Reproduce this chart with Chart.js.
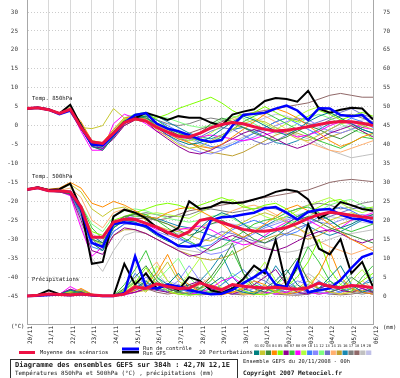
<!DOCTYPE html>
<html>
<head>
<meta charset="utf-8">
<script src="https://cdn.jsdelivr.net/npm/chart.js@4.4.0/dist/chart.umd.min.js"></script>
<style>
  html, body { margin: 0; padding: 0; background: #fff; }
</style>
</head>
<body>
<canvas id="chart" width="400" height="378"></canvas>
<script>
// GEFS ensemble diagram - 42,7N 12,1E - run 20/11/2008 00h

// Forecast hours (one value every 12h up to 384h)
const hours = [0, 12, 24, 36, 48, 60, 72, 84, 96, 108, 120, 132, 144, 156, 168, 180, 192,
    204, 216, 228, 240, 252, 264, 276, 288, 300, 312, 324, 336, 348, 360, 372, 384];

// Day boundaries and their labels
const dayHours = [0, 24, 48, 72, 96, 120, 144, 168, 192, 216, 240, 264, 288, 312, 336, 360, 384];
const dayLabels = ['20/11', '21/11', '22/11', '23/11', '24/11', '25/11', '26/11', '27/11', '28/11',
    '29/11', '30/11', '01/12', '02/12', '03/12', '04/12', '05/12', '06/12'];

// Tick labels (left: °C, right: mm)
const leftTicks = [-45, -40, -35, -30, -25, -20, -15, -10, -5, 0, 5, 10, 15, 20, 25, 30];
const rightTicks = [0, 5, 10, 15, 20, 25, 30, 35, 40, 45, 50, 55, 60, 65, 70, 75];

// Temperature 850hPa (°C)
const t850Mean = [4.5, 4.7, 4.2, 3.2, 4.3, -0.5, -4.3, -4.7, -2.0, 0.8, 1.8, 1.2, -0.5, -1.7, -2.8, -3.0, -2.0,
    -0.6, 0.3, 0.8, 0.5, -0.3, -1.0, -1.4, -1.2, -0.8, -0.3, 0.3, 0.8, 1.1, 1.0, 0.6, 0.0];
const t850Control = [4.5, 4.7, 4.2, 3.0, 4.0, -0.5, -5.0, -5.2, -2.5, 0.8, 2.8, 3.3, 0.5, -0.8, -1.5, -2.5, -3.7,
    -4.3, -3.8, 0.0, 2.8, 3.1, 3.4, 4.5, 5.3, 4.0, 1.5, 4.6, 4.5, 2.8, 2.5, 2.8, 0.3];
const t850Gfs = [4.5, 4.8, 4.3, 3.2, 5.5, 0.0, -5.0, -5.0, -2.0, 1.0, 2.0, 3.4, 2.5, 1.5, 2.5, 2.1, 2.1,
    0.8, 0.0, 2.9, 3.7, 4.3, 6.5, 7.3, 7.0, 6.3, 9.2, 4.5, 3.4, 4.2, 4.7, 4.5, 1.6];
const t850Perts = [
    [4.3, 4.6, 4.0, 3.0, 4.1, 0.5, -5.5, -6.5, -3.0, 0.5, 2.0, 2.5, -0.5, -2.5, -4.0, -5.0, -4.5, -3.0, -1.0, 1.0, 2.5, 1.5, 0.0, -1.5, -2.5, -1.0, 1.0, 2.5, 3.5, 2.0, 0.5, -1.0, -2.0],
    [4.5, 4.8, 4.3, 3.4, 4.8, -0.5, -0.8, 0.0, 4.5, 2.0, 1.5, 1.0, -1.0, -3.0, -5.0, -6.0, -5.5, -4.0, -2.5, -1.0, 0.5, 1.5, 1.0, -0.5, -2.0, -3.5, -4.0, -2.5, -1.0, 0.5, 1.0, 0.0, -1.0],
    [4.4, 4.5, 4.1, 3.3, 4.2, -1.0, -5.0, -5.5, -2.0, 1.0, 2.5, 2.0, 0.5, -1.0, -2.5, -3.5, -2.0, 0.5, 2.0, 1.0, -0.5, -2.0, -3.0, -4.0, -3.0, -1.5, 0.0, -1.0, -2.5, -3.5, -2.0, -0.5, 0.5],
    [4.6, 4.7, 4.3, 3.1, 4.4, 1.0, -4.0, -4.5, -1.0, 2.0, 2.5, 1.5, 0.0, -2.0, -3.5, -4.5, -5.5, -6.0, -5.0, -3.0, -1.0, 1.0, 3.0, 4.5, 3.5, 2.0, 0.0, -2.0, -4.0, -5.5, -4.5, -3.0, -2.0],
    [4.5, 4.6, 4.2, 3.2, 4.3, 0.0, -4.5, -5.0, -1.5, 1.5, 2.5, 2.5, 2.0, 3.0, 4.5, 5.5, 6.5, 7.5, 6.0, 4.0, 2.5, 3.5, 5.0, 3.5, 2.0, 1.0, 2.5, 4.0, 3.0, 1.5, 2.5, 3.5, 2.5],
    [4.4, 4.6, 4.1, 3.2, 4.1, -0.5, -5.5, -6.0, -3.5, 0.0, 1.5, 1.0, -1.5, -3.5, -5.5, -7.0, -7.5, -6.5, -5.0, -3.5, -2.0, -1.0, -2.0, -3.5, -5.0, -6.0, -5.0, -3.5, -2.0, -1.0, 0.0, -1.5, -3.0],
    [4.5, 4.7, 4.2, 3.2, 4.4, 0.5, -4.5, -5.5, -2.5, 1.0, 3.0, 3.5, 1.5, -0.5, -2.0, -3.0, -4.0, -4.5, -3.0, -1.0, 1.0, 2.5, 3.5, 2.0, 0.5, -1.0, -2.5, -4.0, -5.0, -6.0, -4.5, -3.0, -3.5],
    [4.5, 4.6, 4.2, 3.3, 4.3, -1.5, -6.5, -6.5, 0.5, 3.0, 2.0, 0.5, -1.5, -2.5, -3.0, -3.5, -3.0, -2.5, -3.0, -3.5, -4.0, -3.5, -2.5, -1.5, -2.0, -3.0, -2.5, -1.5, 0.0, 1.0, 0.5, -0.5, -1.0],
    [4.4, 4.7, 4.3, 3.2, 4.2, 0.0, -5.0, -5.5, -2.0, 1.5, 2.5, 2.0, 0.0, -1.5, -3.0, -4.0, -3.5, -2.0, 0.0, 2.0, 3.0, 2.0, 0.5, -1.0, 0.5, 2.5, 4.0, 5.0, 3.5, 2.0, 0.0, -1.5, -3.5],
    [4.5, 4.6, 4.2, 3.1, 4.3, -0.5, -5.5, -6.0, -2.5, 0.5, 2.0, 2.5, 1.5, 0.0, -1.5, -3.0, -4.5, -5.5, -6.0, -5.0, -3.5, -2.0, -0.5, 1.0, 2.0, 0.5, -1.0, -2.5, -1.0, 0.5, 2.0, 1.0, -0.5],
    [4.5, 4.7, 4.1, 3.2, 4.2, 0.0, -4.8, -5.8, -2.0, 1.0, 2.2, 1.5, -0.5, -2.5, -4.5, -6.0, -7.0, -7.5, -6.5, -5.0, -4.0, -3.0, -1.5, 0.0, 1.0, 2.0, 1.5, 0.0, -1.5, -2.0, -1.0, 0.0, 1.0],
    [4.4, 4.6, 4.2, 3.3, 4.3, 0.5, -4.0, -4.5, -1.0, 2.0, 3.0, 3.0, 2.5, 2.0, 1.0, 0.0, -0.5, 0.0, 1.5, 2.5, 2.0, 0.5, -1.0, -2.0, -1.0, 0.5, 2.0, 3.0, 2.0, 0.5, -1.0, -2.0, -2.5],
    [4.5, 4.7, 4.2, 3.2, 4.3, 0.0, -5.0, -5.5, -2.5, 0.5, 2.0, 2.0, 0.0, -2.0, -3.5, -4.0, -3.0, -1.5, -0.5, -1.0, -2.5, -4.0, -5.0, -4.0, -2.5, -1.0, 0.0, 1.0, 2.0, 3.5, 4.5, 3.0, 2.0],
    [4.6, 4.8, 4.3, 3.3, 4.4, 0.5, -4.5, -5.0, -2.0, 1.5, 2.5, 2.0, 0.5, -1.0, -2.5, -3.0, -2.0, -0.5, 0.5, 1.5, 2.5, 3.5, 2.5, 1.0, -1.0, -3.0, -4.5, -5.5, -6.5, -7.0, -6.0, -5.0, -4.0],
    [4.5, 4.6, 4.2, 3.1, 4.2, -0.5, -5.5, -6.5, -3.0, 0.0, 1.5, 1.5, 0.0, -1.5, -3.0, -4.5, -6.0, -7.0, -7.5, -8.0, -7.0, -5.5, -4.0, -2.5, -1.5, -2.0, -3.0, -4.0, -3.0, -2.0, -1.0, 0.5, 1.0],
    [4.4, 4.6, 4.1, 3.2, 4.3, 0.0, -5.0, -6.0, -2.5, 1.0, 2.5, 3.0, 2.5, 1.0, -0.5, -2.0, -3.0, -3.5, -2.5, -1.0, -0.5, -1.5, -3.0, -4.5, -5.0, -4.0, -2.5, -1.0, 0.5, 1.5, 0.5, -1.0, -2.0],
    [4.5, 4.7, 4.2, 3.3, 4.3, 0.5, -4.5, -5.0, -1.5, 1.5, 2.5, 2.5, 1.5, 0.5, 0.0, 0.5, 1.5, 2.0, 1.5, 0.5, -0.5, -1.5, -0.5, 1.0, 2.0, 1.5, 0.5, 0.0, 1.5, 2.5, 3.0, 2.0, 1.0],
    [4.5, 4.6, 4.2, 3.2, 4.3, 0.0, -5.0, -5.5, -2.0, 1.0, 2.0, 1.5, 0.0, -1.5, -2.5, -2.0, -1.0, 0.0, 1.0, 2.0, 3.0, 3.5, 4.0, 4.5, 5.0, 5.5, 6.0, 7.0, 8.0, 8.5, 8.0, 7.5, 7.5],
    [4.4, 4.6, 4.1, 3.2, 4.2, 0.0, -5.5, -6.5, -3.0, 0.5, 2.0, 2.0, 0.5, -1.0, -2.0, -3.5, -5.0, -6.0, -5.5, -4.5, -3.0, -2.0, -1.0, -0.5, -1.5, -2.5, -3.5, -5.0, -6.5, -7.5, -8.5, -8.0, -7.5],
    [4.5, 4.7, 4.2, 3.2, 4.3, 0.5, -4.5, -5.5, -2.0, 1.0, 2.5, 2.0, 0.5, -0.5, -1.5, -2.5, -3.5, -4.0, -3.0, -1.5, 0.0, 1.0, 2.0, 3.0, 2.5, 1.5, 0.5, -0.5, -1.5, -0.5, 0.5, 1.5, 2.0]
];

// Temperature 500hPa (°C)
const t500Mean = [-16.9, -16.4, -17.2, -17.3, -17.5, -21.5, -29.5, -29.5, -25.5, -24.7, -24.8, -25.8, -26.8, -28.2, -29.3, -28.0, -25.0,
    -24.5, -25.6, -26.5, -27.4, -27.8, -27.9, -27.5, -26.9, -25.8, -24.5, -23.5, -22.9, -23.2, -23.7, -24.1, -24.5];
const t500Control = [-16.9, -16.4, -17.2, -17.3, -17.5, -22, -31, -32, -26, -25.5, -26, -26.5, -28.5, -30, -31.8, -32, -31.5,
    -25, -24.2, -24, -23.5, -23, -21.8, -21.5, -23, -24.8, -22.8, -22.2, -22, -23.5, -24.5, -24.8, -25.6];
const t500Gfs = [-16.9, -16.3, -17.0, -16.8, -15.3, -22, -36.5, -36, -24, -22.2, -23, -24.5, -26.9, -28.5, -27, -20, -22,
    -21.5, -20.2, -20.5, -20.3, -19.5, -18.7, -17.5, -16.9, -17.4, -19.5, -24.5, -23, -20.2, -21, -22, -22.5];
const t500Perts = [
    [-17.0, -16.5, -17.2, -17.4, -17.8, -23, -31, -33, -27, -25, -25.5, -27, -29, -30.5, -31.5, -30, -27, -24.5, -23, -24, -26, -28, -29.5, -28, -26, -24, -22.5, -23.5, -25, -27, -26, -24.5, -23.5],
    [-16.8, -16.2, -17.0, -17.0, -15.5, -17.5, -22, -24, -22, -21.5, -23, -25, -26.5, -27.5, -28, -29, -30, -30.5, -29, -27, -25.5, -24, -23, -24, -25.5, -27, -28.5, -27, -25, -24, -23, -24, -26],
    [-17.0, -16.4, -17.3, -17.5, -18, -22, -30, -31, -26, -24, -23.5, -24, -25, -26, -27.5, -29, -28, -26, -25, -26.5, -28, -30, -31, -29.5, -27, -25, -24, -25.5, -27, -28, -29, -30, -31],
    [-16.9, -16.3, -16.8, -16.5, -15, -16.5, -20.5, -21.5, -20, -21, -22.5, -24, -24.5, -23, -22, -21.5, -22.5, -24, -26, -28, -29.5, -28, -26, -24, -22, -21, -22.5, -24, -26, -28, -30, -31.5, -33],
    [-17.0, -16.5, -17.2, -17.3, -17.6, -22, -28, -29, -25, -24, -23, -22, -21, -20.5, -21, -22, -21, -20, -19, -20, -21.5, -22, -21, -20.5, -22, -24, -23, -21.5, -20, -19.5, -21, -22, -21.5],
    [-17.1, -16.6, -17.3, -17.5, -18.2, -25, -33, -34, -29, -27, -27.5, -28.5, -30, -31.5, -33, -34.5, -34, -32, -30, -29, -30, -31.5, -32.5, -33, -32, -30.5, -29, -28, -27.5, -28.5, -30, -31, -30],
    [-16.9, -16.4, -17.1, -17.2, -17.5, -21, -27, -30, -27, -24.5, -23, -23.5, -25, -27, -29, -30.5, -32, -33, -32, -30, -28, -26, -25, -24.5, -23, -22, -21.5, -23, -25, -27, -28, -27, -26],
    [-17.0, -16.3, -17.0, -17.4, -18.5, -27, -34.5, -32, -26, -24, -24.5, -26, -27.5, -28, -27.5, -27, -26.5, -27.5, -29, -30.5, -31.5, -31, -29, -27, -25.5, -24.5, -25, -26.5, -28, -27, -25, -24, -23],
    [-17.0, -16.5, -17.2, -17.3, -17.5, -23, -30, -31.5, -27, -25, -24, -23.5, -23, -23.5, -24, -24.5, -23, -21.5, -20, -19.5, -21, -22.5, -24, -25, -24, -22.5, -21, -20, -19, -20.5, -22, -23, -22],
    [-16.9, -16.4, -17.1, -17.3, -17.8, -24, -32, -33, -28, -26, -25, -25.5, -26.5, -28, -29.5, -31, -32, -31.5, -29.5, -27.5, -26, -25, -26, -27.5, -29, -28, -26, -24, -22.5, -21.5, -22.5, -24, -25],
    [-17.0, -16.5, -17.2, -17.4, -17.7, -23.5, -31, -32, -26.5, -25, -25.5, -26.5, -28, -29, -30, -31, -33, -34, -33.5, -32, -30, -28.5, -27, -26, -25, -24, -24.5, -25.5, -26, -25, -24, -23.5, -24],
    [-16.8, -16.3, -17.0, -17.2, -17.3, -21, -26, -28, -24, -22.5, -22, -22.5, -23.5, -24.5, -25, -25.5, -25, -24, -23.5, -24.5, -26, -27, -28, -27.5, -26, -25, -24, -22.5, -21, -20, -19.5, -21, -22.5],
    [-17.0, -16.5, -17.2, -17.4, -17.8, -23, -30, -32.5, -28, -26, -26, -27, -28.5, -30, -31.5, -32, -31, -29.5, -28, -28.5, -29.5, -30.5, -31, -30, -28.5, -27, -26, -25, -24, -23, -22, -21.5, -22],
    [-16.9, -16.2, -16.9, -17.1, -16.5, -19, -25, -27, -23, -22, -23, -24, -25, -26, -27, -27.5, -27, -25.5, -24, -22.5, -21.5, -21, -22, -23.5, -25, -27, -29, -30.5, -32, -33, -34, -33, -32],
    [-17.0, -16.5, -17.2, -17.4, -18, -24, -31, -33, -29, -27.5, -27.5, -28.5, -30, -31.5, -33, -34, -35, -35.5, -35, -34, -32.5, -31, -30, -29, -28.5, -29, -30, -29, -27.5, -26, -25, -24, -23.5],
    [-16.9, -16.4, -17.1, -17.3, -17.6, -22.5, -29, -31, -26.5, -24.5, -24, -24, -24.5, -25.5, -26.5, -27, -28, -29, -30, -30.5, -29.5, -28, -26.5, -25, -24, -25, -26.5, -28, -29, -28, -26.5, -25, -24],
    [-17.0, -16.5, -17.2, -17.3, -17.5, -22, -29, -31, -26, -24, -23.5, -23, -23.5, -24, -24, -23.5, -22.5, -22, -22.5, -23, -22.5, -22, -21.5, -22, -23, -22, -21, -20.5, -21, -22, -21.5, -20.5, -20],
    [-16.9, -16.4, -17.1, -17.3, -17.6, -23, -30, -31.5, -27, -25, -24.5, -24.5, -25, -24.5, -23.5, -22.5, -22, -21.5, -21, -20.5, -20, -19.5, -19, -18.5, -18, -17.5, -17, -16, -15, -14.5, -14.2, -14.5, -14.8],
    [-17.0, -16.5, -17.3, -17.5, -18.3, -26, -35, -38.5, -33, -29, -28, -28.5, -30, -31.5, -32.5, -33, -33.5, -33, -32, -31, -30.5, -31, -32, -33, -33.5, -33, -32, -31, -30, -29, -28.5, -28, -27.5],
    [-16.9, -16.4, -17.1, -17.2, -17.6, -22, -28.5, -30.5, -26, -24.5, -25, -26, -27, -28, -28.5, -28, -27, -26, -25.5, -26, -26.5, -27, -26.5, -25.5, -24.5, -23.5, -23, -23.5, -24, -24.5, -25, -25.5, -26]
];

// Precipitation (mm, right axis)
const precipMean = [0, 0.2, 0.5, 0.4, 0.3, 0.5, 0.3, 0.1, 0.1, 0.5, 2.4, 2.0, 3.2, 2.5, 2.0, 2.1, 3.5,
    2.5, 1.6, 3.0, 2.6, 2.3, 2.1, 2.3, 2.0, 1.8, 2.2, 3.4, 2.5, 2.2, 2.8, 2.6, 2.2];
const precipControl = [0, 0.1, 0.3, 0.4, 0.2, 0.5, 0.2, 0, 0, 0.8, 10.5, 2.5, 2.0, 3.0, 2.5, 1.5, 1.0,
    0.5, 0.6, 1.6, 3.4, 5.0, 6.9, 3.0, 2.4, 8.7, 1.0, 1.5, 2.0, 4.2, 7.4, 10.3, 11.3];
const precipGfs = [0, 0.3, 1.5, 0.5, 0.3, 0.5, 0.2, 0, 0, 8.5, 3.0, 6.0, 2.0, 3.0, 1.5, 5.0, 4.0,
    1.5, 0.8, 2.0, 4.5, 8.0, 6.0, 14.8, 2.4, 8.0, 19.0, 12.5, 11.0, 15.0, 6.0, 9.0, 2.4];
const precipPerts = [
    [0, 0.2, 0.6, 0.5, 1.5, 0.8, 0.3, 0, 0, 0.5, 2, 4, 1.5, 3, 6, 2, 1, 3, 5, 2, 1, 0.5, 2, 4, 7, 3, 1, 2, 5, 8, 3, 1, 2],
    [0, 0.3, 0.4, 0.6, 1.0, 1.5, 0.2, 0, 0, 1, 3, 1, 5, 9, 4, 2, 1, 0.5, 1, 2, 0.5, 1, 3, 1, 0.5, 2, 4, 2, 1, 0.5, 1, 3, 2],
    [0, 0.1, 0.5, 0.3, 0.8, 1.2, 0.4, 0, 0, 2, 5, 8, 4, 2, 1, 3, 2, 5, 9, 14, 6, 2, 1, 3, 6, 10, 4, 2, 1, 2, 5, 3, 1],
    [0, 0.2, 0.4, 0.5, 0.6, 2.0, 0.5, 0, 0, 0.5, 1.5, 3, 6, 11, 5, 3, 1, 0.5, 0.3, 1, 2, 4, 3, 1, 0.5, 1, 2, 6, 12, 5, 2, 1, 0.5],
    [0, 0.2, 0.5, 0.4, 1.2, 0.6, 0.2, 0, 0, 1.5, 3.5, 7.5, 3, 1.5, 0.5, 0.2, 0.5, 1, 2, 3, 1.5, 0.5, 0.3, 1, 2.5, 5, 9, 15, 7, 3, 1.5, 4, 6],
    [0, 0.3, 0.7, 0.5, 1.8, 1.0, 0.3, 0, 0, 0.5, 1, 2, 1.5, 1, 2, 3, 4, 2, 1, 0.5, 1.5, 3, 5, 7, 3, 1, 0.5, 2, 3, 1.5, 1, 2, 1],
    [0, 0.2, 0.4, 0.5, 0.9, 1.4, 0.5, 0, 0, 3, 7, 12, 5, 2, 1, 0.5, 2, 4, 8, 12, 6, 3, 2, 1, 3, 7, 13, 9, 4, 2, 1, 5, 8],
    [0, 0.1, 0.3, 0.4, 2.5, 1.0, 0.2, 0, 0, 0.3, 1, 2, 3, 2, 1, 0.5, 1, 2, 4, 5, 3, 2, 1, 0.5, 1, 2, 1, 0.5, 1, 2, 3, 2, 1],
    [0, 0.3, 0.6, 0.5, 1.0, 0.5, 0.2, 0, 0, 2, 4, 3, 8, 4, 2, 6, 10, 5, 2, 1, 2, 5, 9, 4, 2, 1, 3, 6, 3, 2, 4, 7, 3],
    [0, 0.2, 0.5, 0.4, 0.8, 1.6, 0.4, 0, 0, 1, 6, 3, 2, 1, 2, 1, 0.5, 1, 3, 5, 7, 4, 2, 1, 0.5, 1, 2, 4, 2, 1, 2, 3, 5],
    [0, 0.2, 0.4, 0.6, 1.3, 0.7, 0.2, 0, 0, 0.5, 2, 5, 3, 2, 4, 8, 4, 2, 1, 0.5, 1, 2, 1, 0.5, 2, 4, 3, 1, 0.5, 1, 2, 1, 1.5],
    [0, 0.1, 0.5, 0.4, 0.7, 1.1, 0.3, 0, 0, 1, 2.5, 1.5, 4, 7, 10, 5, 2, 1, 3, 6, 4, 2, 1, 3, 5, 2, 1, 0.5, 1, 3, 6, 9, 4],
    [0, 0.2, 0.6, 0.5, 1.6, 0.9, 0.3, 0, 0, 0.5, 1.5, 2.5, 2, 1.5, 3, 2, 1, 0.5, 1.5, 2, 3, 5, 4, 2, 1, 0.5, 1, 2, 3, 4, 2, 1, 0.5],
    [0, 0.3, 0.4, 0.5, 1.1, 1.8, 0.4, 0, 0, 1, 3, 6, 9, 4, 2, 1, 3, 5, 2, 1, 0.5, 0.3, 1, 2, 4, 8, 5, 2, 1, 0.5, 2, 4, 2],
    [0, 0.2, 0.5, 0.3, 0.9, 1.3, 0.3, 0, 0, 0.5, 1, 1.5, 2, 1, 0.5, 1, 2, 3, 2, 1, 0.5, 1, 2, 1.5, 1, 2, 3, 2, 1, 0.5, 1, 1.5, 1],
    [0, 0.2, 0.5, 0.4, 1.4, 0.8, 0.3, 0, 0, 1.5, 4, 2, 5, 3, 1, 2, 4, 7, 11, 5, 2, 1, 3, 8, 4, 2, 1, 2, 4, 2, 1, 3, 4],
    [0, 0.1, 0.4, 0.5, 1.0, 1.2, 0.2, 0, 0, 0.5, 2, 3.5, 2, 1, 2, 3, 1.5, 1, 0.5, 1, 2, 1, 0.5, 1.5, 3, 2, 1, 0.5, 1, 2, 1, 0.5, 1],
    [0, 0.2, 0.6, 0.5, 1.7, 0.6, 0.3, 0, 0, 0.3, 1, 2, 1, 0.5, 1, 0.5, 0.3, 0.5, 1, 0.5, 0.3, 0.5, 1, 0.5, 0.3, 0.2, 0.5, 1, 0.5, 0.3, 0.5, 1, 0.5],
    [0, 0.3, 0.5, 0.4, 0.8, 1.5, 0.4, 0, 0, 1, 2, 4, 6, 3, 1, 2, 5, 3, 1, 2, 4, 7, 5, 2, 1, 3, 6, 4, 2, 1, 3, 2, 1],
    [0, 0.2, 0.4, 0.5, 1.2, 1.0, 0.3, 0, 0, 0.5, 1.5, 3, 2, 4, 3, 1, 2, 1, 0.5, 1, 2, 3, 2, 1, 2, 1, 0.5, 1, 2, 4, 3, 2, 1]
];

// Perturbation colours and legend numbers
const pertColors = ['#008080', '#c8c830', '#3c8c3c', '#ff8c00', '#80ff00', '#900090', '#3cc83c', '#ff00ff', '#b0ff40', '#4080ff',
    '#8888ff', '#80ff80', '#7070c8', '#ffb070', '#c0a030', '#1888b0', '#808080', '#906868', '#c0c0c0', '#c0c0e8'];
const pertLabels = ['01', '02', '03', '04', '05', '06', '07', '08', '09', '10',
    '11', '12', '13', '14', '15', '16', '17', '18', '19', '20'];

const meanColor = '#ee1144';
const controlColor = '#0000ff';
const gfsColor = '#000000';
const textColor = '#202020';
const mono = '"DejaVu Sans Mono", monospace';

// Build one line dataset
function series(values, axis, color, width, order) {
    return {
        data: hours.map((h, i) => ({ x: h, y: values[i] })),
        yAxisID: axis,
        borderColor: color,
        backgroundColor: color,
        borderWidth: width,
        pointRadius: 0,
        tension: 0,
        fill: false,
        order: order
    };
}

const datasets = [];
// Thick lines on top
datasets.push(series(t850Mean, 'y', meanColor, 3, 0));
datasets.push(series(t500Mean, 'y', meanColor, 3, 0));
datasets.push(series(precipMean, 'y2', meanColor, 3, 0));
datasets.push(series(t850Control, 'y', controlColor, 2.5, 1));
datasets.push(series(t500Control, 'y', controlColor, 2.5, 1));
datasets.push(series(precipControl, 'y2', controlColor, 2.5, 1));
datasets.push(series(t850Gfs, 'y', gfsColor, 2, 2));
datasets.push(series(t500Gfs, 'y', gfsColor, 2, 2));
datasets.push(series(precipGfs, 'y2', gfsColor, 2, 2));
// Perturbations underneath
pertColors.forEach((c, i) => {
    datasets.push(series(t850Perts[i], 'y', c, 1, 3));
    datasets.push(series(t500Perts[i], 'y', c, 1, 3));
    datasets.push(series(precipPerts[i], 'y2', c, 1, 3));
});

// Titles, legend and captions drawn on the canvas
const decorPlugin = {
    id: 'decor',
    beforeDraw(chart) {
        const ctx = chart.ctx;
        ctx.save();
        ctx.fillStyle = '#ffffff';
        ctx.fillRect(0, 0, chart.width, chart.height);
        ctx.restore();
    },
    afterDraw(chart) {
        const ctx = chart.ctx;
        ctx.save();
        ctx.fillStyle = textColor;
        ctx.textBaseline = 'middle';
        ctx.textAlign = 'left';

        // Panel names inside the plot
        ctx.font = '5.6px ' + mono;
        ctx.fillText('Temp. 850hPa', 32, 99);
        ctx.fillText('Temp. 500hPa', 32, 176.5);
        ctx.fillText('Précipitations', 32, 280);

        // Units
        ctx.fillText('(°C)', 11, 327);
        ctx.fillText('(mm)', 383, 328);

        // Legend lines
        ctx.fillStyle = meanColor;
        ctx.fillRect(19, 351, 16, 3);
        ctx.fillStyle = controlColor;
        ctx.fillRect(122, 347.5, 17, 3);
        ctx.fillStyle = gfsColor;
        ctx.fillRect(122, 351, 17, 2.5);

        ctx.fillStyle = textColor;
        ctx.font = '5.4px ' + mono;
        ctx.fillText('Moyenne des scénarios', 40, 352.5);
        ctx.fillText('Run de contrôle', 143, 348.5);
        ctx.fillText('Run GFS', 143, 353.5);
        ctx.font = '5.6px ' + mono;
        ctx.fillText('20 Perturbations', 199, 352.5);

        // Perturbation colour boxes
        ctx.font = '3.8px ' + mono;
        ctx.textAlign = 'center';
        pertColors.forEach((c, i) => {
            const bx = 254 + i * 5.9;
            ctx.fillStyle = textColor;
            ctx.fillText(pertLabels[i], bx + 2.7, 346.5);
            ctx.fillStyle = c;
            ctx.fillRect(bx, 350.5, 5.2, 4.5);
        });

        // Caption box
        ctx.textAlign = 'left';
        ctx.strokeStyle = '#303030';
        ctx.lineWidth = 1;
        ctx.strokeRect(10.5, 359.5, 227, 25);
        ctx.fillStyle = textColor;
        ctx.font = 'bold 7px ' + mono;
        ctx.fillText('Diagramme des ensembles GEFS sur 384h : 42,7N 12,1E', 15, 365);
        ctx.font = '5.9px ' + mono;
        ctx.fillText('Températures 850hPa et 500hPa (°C) , précipitations (mm)', 15, 373);
        ctx.font = '5.4px ' + mono;
        ctx.fillText('Ensemble GEFS du 20/11/2008 - 00h', 243, 362);
        ctx.font = 'bold 6.1px ' + mono;
        ctx.fillText('Copyright 2007 Meteociel.fr', 243, 373);
        ctx.restore();
    }
};

const tickFont = { family: mono, size: 6 };

new Chart(document.getElementById('chart'), {
    type: 'line',
    data: { datasets: datasets },
    options: {
        responsive: false,
        animation: false,
        layout: { padding: 0 },
        plugins: {
            legend: { display: false },
            tooltip: { enabled: false }
        },
        scales: {
            x: {
                type: 'linear',
                min: 0,
                max: 384,
                afterBuildTicks: function(scale) {
                    scale.ticks = dayHours.map(v => ({ value: v }));
                },
                afterFit: function(scale) {
                    scale.height = 54;
                    scale.paddingLeft = 0;
                    scale.paddingRight = 0;
                },
                ticks: {
                    autoSkip: false,
                    minRotation: 90,
                    maxRotation: 90,
                    padding: 2,
                    labelOffset: 3,
                    font: tickFont,
                    color: textColor,
                    callback: function(value, index) {
                        return dayLabels[index];
                    }
                },
                grid: { color: '#d8d8d8', drawTicks: false },
                border: { color: '#a8a8a8' }
            },
            y: {
                position: 'left',
                min: -52.39,
                max: 33.17,
                afterBuildTicks: function(scale) {
                    scale.ticks = leftTicks.map(v => ({ value: v }));
                },
                afterFit: function(scale) {
                    scale.width = 27;
                    scale.paddingTop = 0;
                    scale.paddingBottom = 0;
                },
                ticks: { font: tickFont, color: '#404040', padding: 9 },
                grid: { color: '#cccccc', drawTicks: false },
                border: { color: '#a8a8a8', dash: [1, 2] }
            },
            y2: {
                position: 'right',
                min: -7.39,
                max: 78.17,
                afterBuildTicks: function(scale) {
                    scale.ticks = rightTicks.map(v => ({ value: v }));
                },
                afterFit: function(scale) {
                    scale.width = 27;
                    scale.paddingTop = 0;
                    scale.paddingBottom = 0;
                },
                ticks: { font: tickFont, color: '#404040', padding: 10 },
                grid: { display: false, drawTicks: false },
                border: { color: '#a8a8a8' }
            }
        }
    },
    plugins: [decorPlugin]
});
</script>
</body>
</html>
